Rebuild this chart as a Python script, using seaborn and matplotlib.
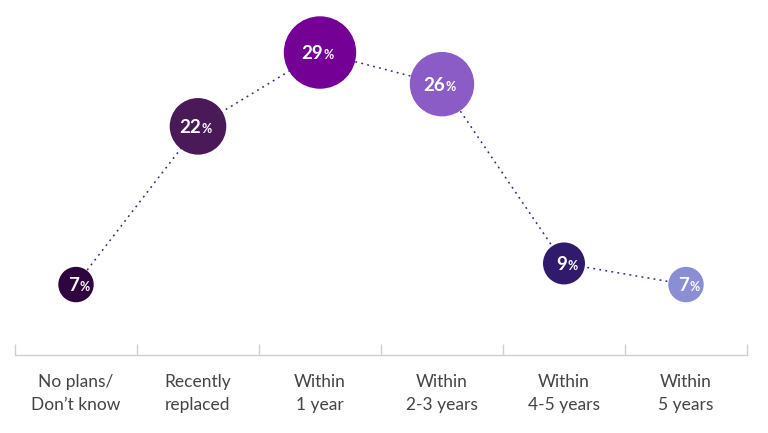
import matplotlib
matplotlib.use("Agg")
import matplotlib.pyplot as plt
import seaborn as sns
import pandas as pd

categories = ["No plans/\nDon’t know", "Recently\nreplaced", "Within\n1 year",
              "Within\n2-3 years", "Within\n4-5 years", "Within\n5 years"]
values = [7, 22, 29, 26, 9, 7]
colors = ["#2f0540", "#4a1a58", "#740096", "#8b5cc6", "#2f1a6c", "#8a8ed4"]

df = pd.DataFrame({"category": categories, "value": values})

sns.set_theme(style="white")
plt.rcParams["font.family"] = ["Lato", "DejaVu Sans"]

fig = plt.figure(figsize=(7.68, 4.33), dpi=100)
ax = fig.add_axes([15 / 768, 1 - 355 / 433, 732 / 768, 355 / 433])

sns.lineplot(data=df, x="category", y="value", ax=ax, color="#2b2a78", lw=1.1,
             linestyle=(0, (1.2, 2.8)), zorder=1, sort=False)
sns.scatterplot(data=df, x="category", y="value", hue="category", palette=colors,
                size="value", sizes={7: 650, 9: 914, 22: 1660, 26: 2150, 29: 2720},
                legend=False, ax=ax, zorder=2, linewidth=0, alpha=1, clip_on=False)

for i, v in enumerate(values):
    ax.annotate(str(v), (i, v), xytext=(2, -5), textcoords="offset points",
                ha="right", va="baseline", color="white", fontsize=13.5,
                fontweight="bold", zorder=3)
    ax.annotate("%", (i, v), xytext=(2.5, -5), textcoords="offset points",
                ha="left", va="baseline", color="white", fontsize=9,
                fontweight="bold", zorder=3)

ax.set_xlim(-0.5, 5.5)
ax.set_ylim(0.32, 33.98)
ax.set_xlabel("")
ax.set_ylabel("")
ax.set_yticks([])
for s in ["left", "top", "right"]:
    ax.spines[s].set_visible(False)
ax.spines["bottom"].set_color("#cfcfcf")
ax.spines["bottom"].set_linewidth(1)

ax.set_xticks([k - 0.5 for k in range(7)], minor=True)
ax.tick_params(axis="x", which="major", length=0, pad=13.5, labelsize=12.5,
               labelcolor="#444444")
ax.tick_params(axis="x", which="minor", direction="in", length=8, width=1,
               color="#cfcfcf", bottom=True)
for lab in ax.get_xticklabels():
    lab.set_linespacing(1.55)

fig.savefig("out.png", dpi=100)
